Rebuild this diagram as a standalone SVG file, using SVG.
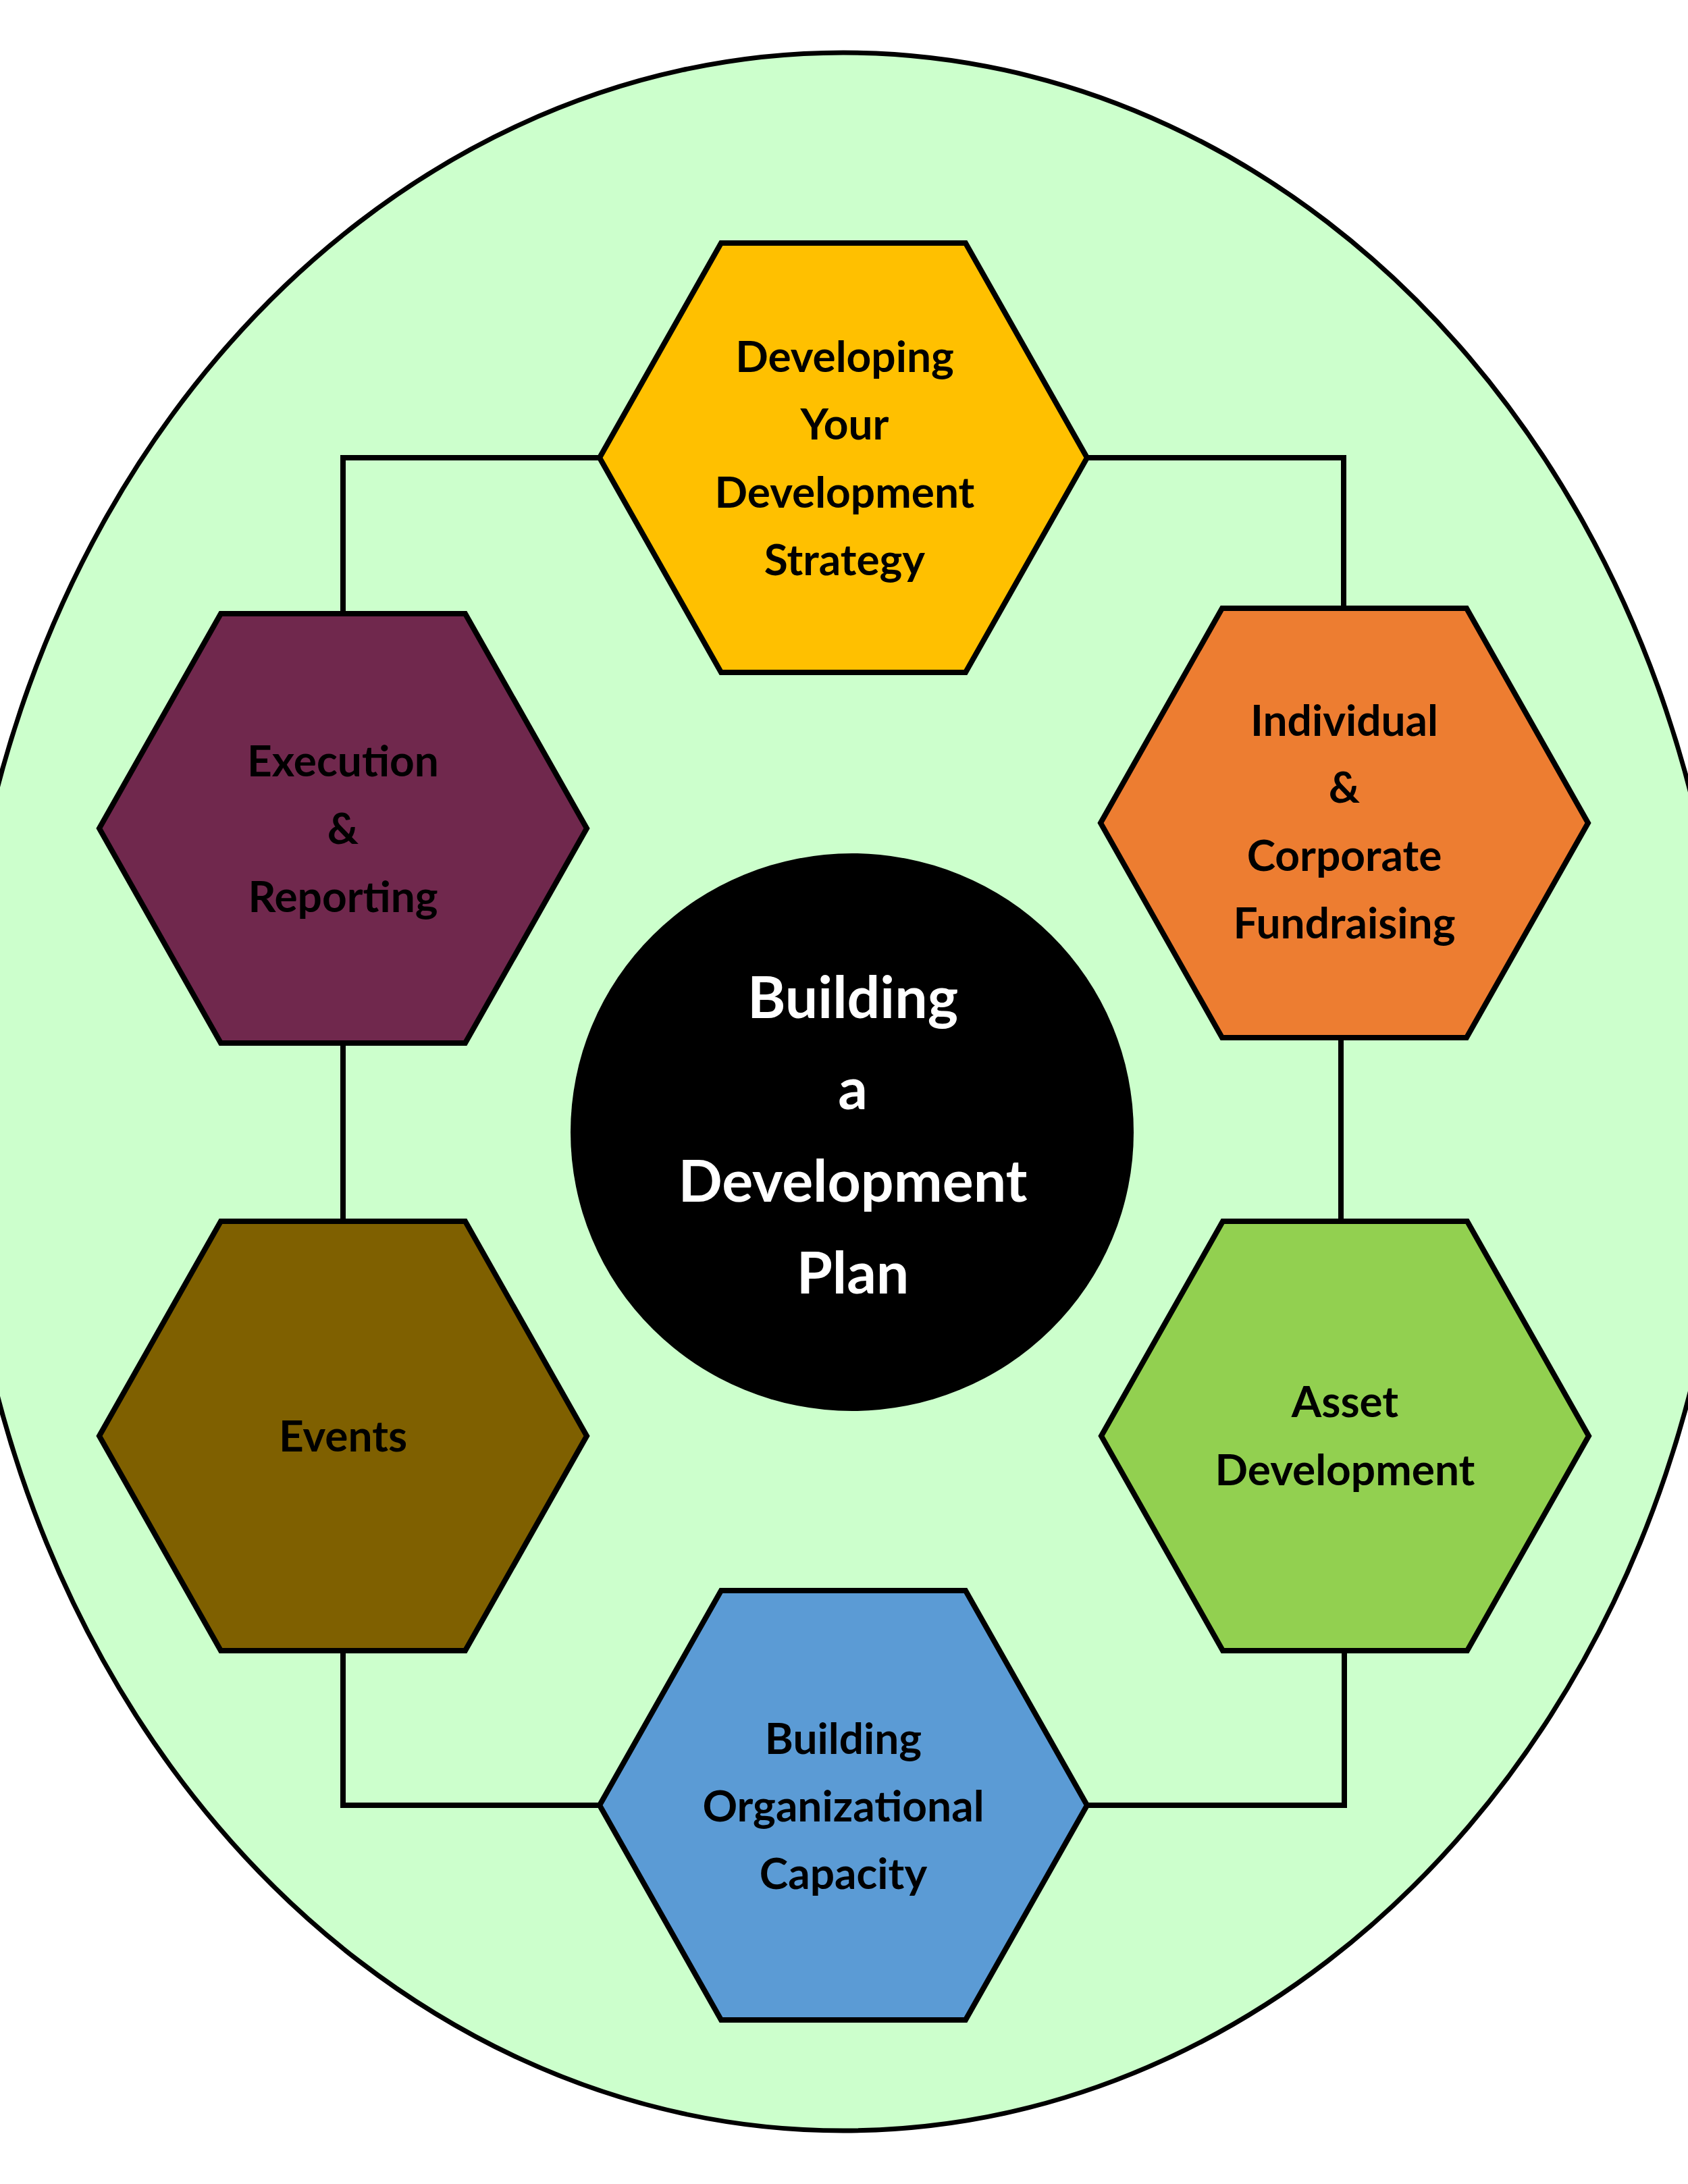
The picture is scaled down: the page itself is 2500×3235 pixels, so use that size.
<svg xmlns="http://www.w3.org/2000/svg" width="2500" height="3235" viewBox="0 0 2500 3235">
  <defs>
    <style>
      .hex { stroke: #000000; stroke-width: 8; stroke-linejoin: miter; }
      .conn { fill: none; stroke: #000000; stroke-width: 8; stroke-linejoin: miter; }
      .lbl { font-family: Lato, "Open Sans", "Liberation Sans", sans-serif; font-weight: 700; font-size: 64px; fill: #000000; text-anchor: middle; }
      .center { font-family: Lato, "Open Sans", "Liberation Sans", sans-serif; font-weight: 700; font-size: 86px; fill: #FFFFFF; text-anchor: middle; }
    </style>
    <polygon id="hexshape" points="-361,0 -181,-318 181,-318 361,0 181,318 -181,318"/>
  </defs>
  <rect x="0" y="0" width="2500" height="3235" fill="#FFFFFF"/>
  <g id="background">
    <ellipse cx="1249" cy="1617" rx="1310" ry="1539" fill="#CCFFCC" stroke="#000000" stroke-width="7"/>
  </g>
  <g id="connectors">
    <polyline class="conn" points="889,678 508,678 508,908"/>
    <polyline class="conn" points="1609,678 1990,678 1990,901"/>
    <line class="conn" x1="508" y1="1537" x2="508" y2="1809"/>
    <line class="conn" x1="1986" y1="1530" x2="1986" y2="1809"/>
    <polyline class="conn" points="508,2445 508,2674 888,2674"/>
    <polyline class="conn" points="1991,2445 1991,2674 1610,2674"/>
  </g>
  <g id="node-strategy">
    <use href="#hexshape" class="hex" fill="#FFC000" transform="translate(1249,678)"/>
    <text class="lbl" x="1251" y="551">Developing</text>
    <text class="lbl" x="1251" y="651">Your</text>
    <text class="lbl" x="1251" y="752">Development</text>
    <text class="lbl" x="1251" y="852">Strategy</text>
  </g>
  <g id="node-execution">
    <use href="#hexshape" class="hex" fill="#70284D" transform="translate(508,1227)"/>
    <text class="lbl" x="508" y="1150">Execution</text>
    <text class="lbl" x="508" y="1250">&amp;</text>
    <text class="lbl" x="508" y="1351">Reporting</text>
  </g>
  <g id="node-individual">
    <use href="#hexshape" class="hex" fill="#ED7D31" transform="translate(1991,1219)"/>
    <text class="lbl" x="1991" y="1090">Individual</text>
    <text class="lbl" x="1991" y="1189">&amp;</text>
    <text class="lbl" x="1991" y="1290">Corporate</text>
    <text class="lbl" x="1991" y="1390">Fundraising</text>
  </g>
  <g id="node-events">
    <use href="#hexshape" class="hex" fill="#7F6000" transform="translate(508,2127)"/>
    <text class="lbl" x="508" y="2150">Events</text>
  </g>
  <g id="node-asset">
    <use href="#hexshape" class="hex" fill="#92D050" transform="translate(1992,2127)"/>
    <text class="lbl" x="1992" y="2099">Asset</text>
    <text class="lbl" x="1992" y="2200">Development</text>
  </g>
  <g id="node-capacity">
    <use href="#hexshape" class="hex" fill="#5B9BD5" transform="translate(1249,2674)"/>
    <text class="lbl" x="1249" y="2598">Building</text>
    <text class="lbl" x="1249" y="2698">Organizational</text>
    <text class="lbl" x="1249" y="2798">Capacity</text>
  </g>
  <g id="node-center">
    <ellipse cx="1262" cy="1677" rx="417" ry="413" fill="#000000"/>
    <text class="center" x="1263" y="1508">Building</text>
    <text class="center" x="1263" y="1643">a</text>
    <text class="center" x="1263" y="1780">Development</text>
    <text class="center" x="1263" y="1916">Plan</text>
  </g>
</svg>
